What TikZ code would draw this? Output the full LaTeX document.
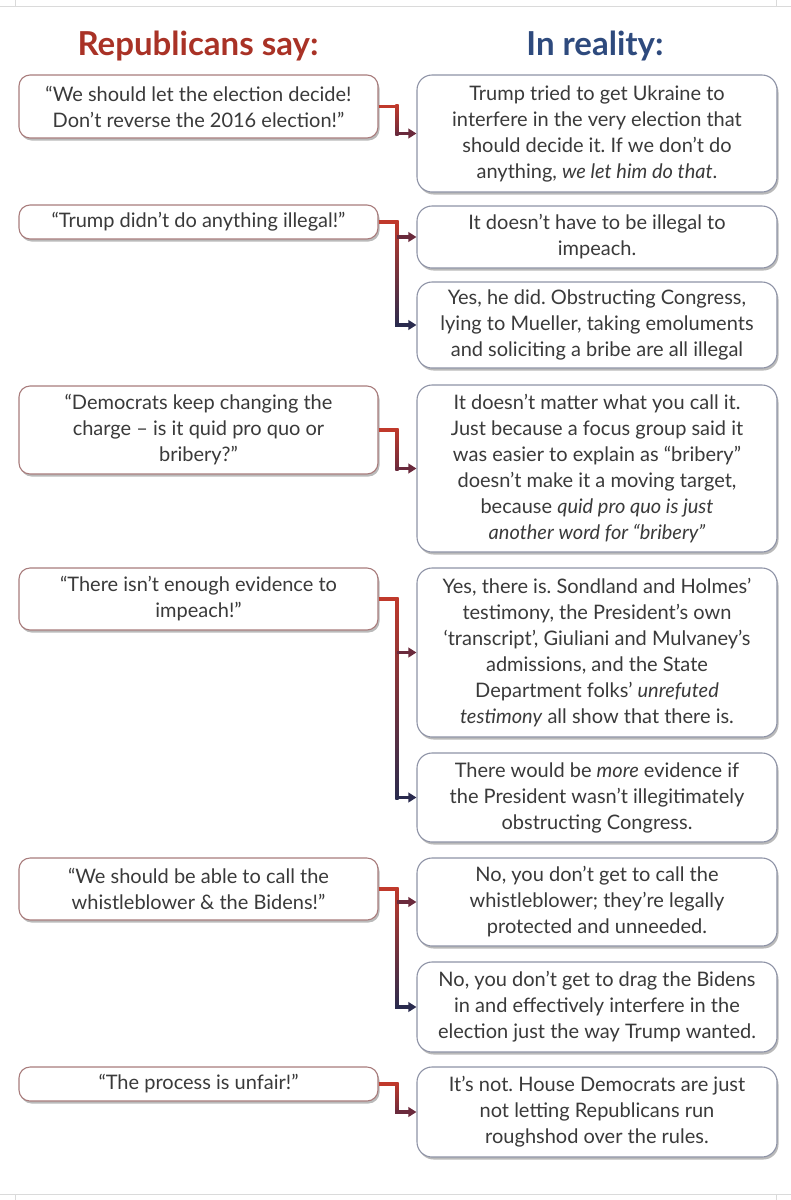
\documentclass[tikz,border=0pt]{standalone}
\usepackage{fontspec}
\setmainfont{Lato}
\frenchspacing
\usetikzlibrary{arrows.meta,shadows}
\definecolor{cred}{HTML}{C0392B}
\definecolor{cnavy}{HTML}{2A2B4E}
\definecolor{cmid}{HTML}{6A2A3C}
\definecolor{hred}{HTML}{A93226}
\definecolor{hblue}{HTML}{2E4A7D}
\definecolor{txt}{HTML}{3A3A3A}
\definecolor{lborder}{HTML}{A87C7C}
\definecolor{rborder}{HTML}{8E93A6}
\definecolor{frame}{HTML}{DADADA}
\tikzset{
  box/.style={fill=white, align=center, inner sep=0pt, text=txt, line width=1.1pt,
    font=\fontsize{20}{26}\selectfont,
    drop shadow={shadow xshift=1.5pt, shadow yshift=-2.5pt, opacity=0.45, fill=black!60}},
  lbox/.style={box, draw=lborder, rounded corners=11pt, minimum width=359pt},
  rbox/.style={box, draw=rborder, rounded corners=15pt, minimum width=360pt},
  head/.style={font=\fontsize{33}{38}\selectfont\bfseries, anchor=base},
  conn/.style={line width=3.4pt},
  tipped/.style={conn, -{Triangle[length=8pt,width=9.5pt]}},
}
\begin{document}
\begin{tikzpicture}[x=1pt,y=-1pt]
\useasboundingbox (0,0) rectangle (791,1200);
% frame
\draw[frame, line width=1pt] (0,6) -- (791,6) (15,0) -- (15,6) (776,0) -- (776,6);
\draw[frame, line width=1pt] (0,1194) -- (791,1194) (15,1194) -- (15,1200) (776,1194) -- (776,1200);
% headings
\node[head, text=hred] (hl) at (198,55) {Republicans say:};
\node[head, text=hblue] (hr) at (595,55) {In reality:};
% left boxes
\node[lbox, minimum height=63pt] (L1) at (198.5,106.5) {“We should let the election decide!\\Don’t reverse the 2016 election!”};
\node[lbox, minimum height=34pt] (L2) at (198.5,222) {“Trump didn’t do anything illegal!”};
\node[lbox, minimum height=88pt] (L3) at (198.5,430) {“Democrats keep changing the\\charge – is it quid pro quo or\\bribery?”};
\node[lbox, minimum height=62pt] (L4) at (198.5,599) {“There isn’t enough evidence to\\impeach!”};
\node[lbox, minimum height=62pt] (L5) at (198.5,889) {“We should be able to call the\\whistleblower \& the Bidens!”};
\node[lbox, minimum height=34pt] (L6) at (198.5,1084) {“The process is unfair!”};
% right boxes
\node[rbox, minimum height=117pt] (R1) at (597,133.5) {Trump tried to get Ukraine to\\interfere in the very election that\\should decide it. If we don’t do\\anything, \textit{we let him do that}.};
\node[rbox, minimum height=62pt] (R2a) at (597,237) {It doesn’t have to be illegal to\\impeach.};
\node[rbox, minimum height=86pt] (R2b) at (597,325) {Yes, he did. Obstructing Congress,\\lying to Mueller, taking emoluments\\and soliciting a bribe are all illegal};
\node[rbox, minimum height=167pt] (R3) at (597,468.5) {It doesn’t matter what you call it.\\Just because a focus group said it\\was easier to explain as “bribery”\\doesn’t make it a moving target,\\because \textit{quid pro quo is just}\\\textit{another word for “bribery”}};
\node[rbox, minimum height=169pt] (R4a) at (597,652.5) {Yes, there is. Sondland and Holmes’\\testimony, the President’s own\\‘transcript’, Giuliani and Mulvaney’s\\admissions, and the State\\Department folks’ \textit{unrefuted}\\\textit{testimony} all show that there is.};
\node[rbox, minimum height=89pt] (R4b) at (597,797.5) {There would be \textit{more} evidence if\\the President wasn’t illegitimately\\obstructing Congress.};
\node[rbox, minimum height=88pt] (R5a) at (597,902) {No, you don’t get to call the\\whistleblower; they’re legally\\protected and unneeded.};
\node[rbox, minimum height=90pt] (R5b) at (597,1007) {No, you don’t get to drag the Bidens\\in and effectively interfere in the\\election just the way Trump wanted.};
\node[rbox, minimum height=90pt] (R6) at (597,1112) {It’s not. House Democrats are just\\not letting Republicans run\\roughshod over the rules.};
% connectors
\coordinate (sp) at (397,0);
% 1
\draw[conn,cred] (L1.east) -- (sp |- L1.east);
\shade[top color=cred,bottom color=cmid] ([xshift=-1.7pt,yshift=1.7pt]sp |- L1.east) rectangle ([xshift=1.7pt,yshift=-1.7pt]sp |- R1.west);
\draw[tipped,cmid] ([xshift=-1.7pt]sp |- R1.west) -- (R1.west);
% 2
\draw[conn,cred] (L2.east) -- (sp |- L2.east);
\shade[top color=cred,bottom color=cnavy] ([xshift=-1.7pt,yshift=1.7pt]sp |- L2.east) rectangle ([xshift=1.7pt,yshift=-1.7pt]sp |- R2b.west);
\draw[tipped,cmid] (sp |- R2a.west) -- (R2a.west);
\draw[tipped,cnavy] ([xshift=-1.7pt]sp |- R2b.west) -- (R2b.west);
% 3
\draw[conn,cred] (L3.east) -- (sp |- L3.east);
\shade[top color=cred,bottom color=cmid] ([xshift=-1.7pt,yshift=1.7pt]sp |- L3.east) rectangle ([xshift=1.7pt,yshift=-1.7pt]sp |- R3.west);
\draw[tipped,cmid] ([xshift=-1.7pt]sp |- R3.west) -- (R3.west);
% 4
\draw[conn,cred] (L4.east) -- (sp |- L4.east);
\shade[top color=cred,bottom color=cnavy] ([xshift=-1.7pt,yshift=1.7pt]sp |- L4.east) rectangle ([xshift=1.7pt,yshift=-1.7pt]sp |- R4b.west);
\draw[tipped,cmid] (sp |- R4a.west) -- (R4a.west);
\draw[tipped,cnavy] ([xshift=-1.7pt]sp |- R4b.west) -- (R4b.west);
% 5
\draw[conn,cred] (L5.east) -- (sp |- L5.east);
\shade[top color=cred,bottom color=cnavy] ([xshift=-1.7pt,yshift=1.7pt]sp |- L5.east) rectangle ([xshift=1.7pt,yshift=-1.7pt]sp |- R5b.west);
\draw[tipped,cmid] (sp |- R5a.west) -- (R5a.west);
\draw[tipped,cnavy] ([xshift=-1.7pt]sp |- R5b.west) -- (R5b.west);
% 6
\draw[conn,cred] (L6.east) -- (sp |- L6.east);
\shade[top color=cred,bottom color=cmid] ([xshift=-1.7pt,yshift=1.7pt]sp |- L6.east) rectangle ([xshift=1.7pt,yshift=-1.7pt]sp |- R6.west);
\draw[tipped,cmid] ([xshift=-1.7pt]sp |- R6.west) -- (R6.west);
\end{tikzpicture}
\end{document}
